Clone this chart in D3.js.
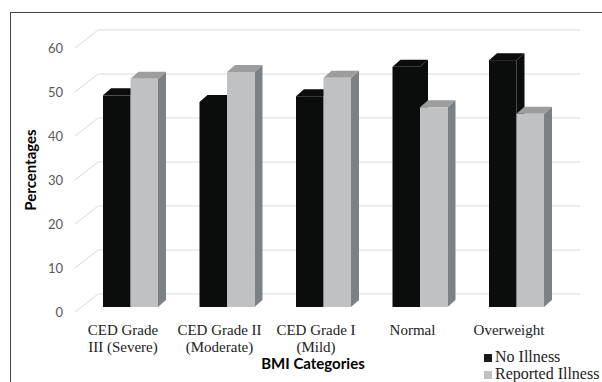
<!DOCTYPE html>
<html>
<head>
<meta charset="utf-8">
<script src="https://cdn.jsdelivr.net/npm/d3@7"></script>
<style>
  body { margin: 0; background: #fff; }
  svg { display: block; }
</style>
</head>
<body>
<svg width="602" height="382"></svg>
<script>
const categories = ['CED Grade III (Severe)', 'CED Grade II (Moderate)', 'CED Grade I (Mild)', 'Normal', 'Overweight']
const categoryLines = [['CED Grade', 'III (Severe)'], ['CED Grade II', '(Moderate)'], ['CED Grade I', '(Mild)'], ['Normal'], ['Overweight']]
const series = ['No Illness', 'Reported Illness']
const noIllness = [48.1, 46.6, 47.9, 54.6, 56.1]
const reportedIllness = [51.9, 53.4, 52.1, 45.4, 43.9]
const yTicks = [0, 10, 20, 30, 40, 50, 60]

const svg = d3.select('svg')

// depth of a bar and of the whole floor (3d look)
const bar = { dx: 8, dy: -7 }
const wall = { dx: 23, dy: -18 }

const x = d3.scaleBand()
  .domain(categories)
  .range([61.5, 585.5])
  .paddingInner(0.43)
  .paddingOuter(0.43)

const xs = d3.scaleBand()
  .domain(series)
  .range([0, x.bandwidth()])

// bar front plane
const y = d3.scaleLinear().domain([0, 60]).range([307, 43])
// front edge of the floor (axis labels) and back wall
const yFront = d3.scaleLinear().domain([0, 60]).range([312, 48])
const yBack = v => yFront(v) + wall.dy

const fills = {
  'No Illness': { front: '#0b0d0c', top: '#0b0d0c', side: '#0b0d0c' },
  'Reported Illness': { front: '#bfc1c3', top: '#9b9d9f', side: '#7e8184' }
}

// outer border
svg.append('rect')
  .attr('x', 10.5).attr('y', 12.5)
  .attr('width', 620).attr('height', 400)
  .attr('fill', 'none')
  .attr('stroke', '#444')

// gridlines: diagonal on the side wall then flat on the back wall
const axisX = 75
const grid = svg.append('g').attr('stroke', '#d9d9d9').attr('fill', 'none')
grid.selectAll('path')
  .data(yTicks)
  .join('path')
  .attr('d', v => `M${axisX},${yFront(v)}L${axisX + wall.dx},${yBack(v)}H580`)

// tick labels
svg.append('g')
  .attr('transform', `translate(${axisX - 10},0)`)
  .call(d3.axisLeft(yFront).tickValues(yTicks).tickSize(0).tickPadding(2))
  .call(g => g.select('.domain').remove())
  .call(g => g.selectAll('text')
    .attr('fill', '#595959')
    .attr('font-family', 'Lato, "Open Sans", sans-serif')
    .attr('font-size', 13))

// bars
const rows = categories.map((c, i) => ({ cat: c, values: [noIllness[i], reportedIllness[i]] }))

const cat = svg.append('g')
  .selectAll('g')
  .data(rows)
  .join('g')
  .attr('transform', d => `translate(${x(d.cat)},0)`)

const piece = cat.selectAll('g')
  .data(d => series.map((s, j) => ({ s, v: d.values[j] })))
  .join('g')

piece.each(function (d) {
  const g = d3.select(this)
  const x0 = xs(d.s)
  const x1 = x0 + xs.bandwidth()
  const yt = y(d.v)
  const yb = y(0)
  const f = fills[d.s]
  // side
  g.append('path')
    .attr('fill', f.side)
    .attr('d', `M${x1},${yb}L${x1 + bar.dx},${yb + bar.dy}L${x1 + bar.dx},${yt + bar.dy}L${x1},${yt}Z`)
  // top
  g.append('path')
    .attr('fill', f.top)
    .attr('d', `M${x0},${yt}L${x0 + bar.dx},${yt + bar.dy}L${x1 + bar.dx},${yt + bar.dy}L${x1},${yt}Z`)
  // front
  g.append('rect')
    .attr('fill', f.front)
    .attr('x', x0).attr('y', yt)
    .attr('width', xs.bandwidth()).attr('height', yb - yt)
})

// category labels
svg.append('g')
  .selectAll('text')
  .data(rows)
  .join('text')
  .attr('x', (d, i) => x(d.cat) + x.bandwidth() / 2 - 7.5)
  .attr('y', 335)
  .attr('text-anchor', 'middle')
  .attr('font-family', '"Liberation Serif", "Times New Roman", serif')
  .attr('font-size', 15)
  .attr('fill', '#222')
  .selectAll('tspan')
  .data((d, i) => categoryLines[i])
  .join('tspan')
  .attr('x', function () { return this.parentNode.getAttribute('x') })
  .attr('dy', (d, i) => i ? 17 : 0)
  .text(d => d)

// axis titles
svg.append('text')
  .attr('x', 313).attr('y', 369)
  .attr('text-anchor', 'middle')
  .attr('font-family', 'Lato, "Open Sans", sans-serif')
  .attr('font-weight', 'bold')
  .attr('font-size', 15)
  .text('BMI Categories')

svg.append('text')
  .attr('transform', 'translate(36,170) rotate(-90)')
  .attr('text-anchor', 'middle')
  .attr('font-family', 'Lato, "Open Sans", sans-serif')
  .attr('font-weight', 'bold')
  .attr('font-size', 15)
  .text('Percentages')

// legend
const legend = svg.append('g')
  .selectAll('g')
  .data(series)
  .join('g')
  .attr('transform', (d, i) => `translate(484,${354 + i * 17})`)
legend.append('rect')
  .attr('width', 8).attr('height', 8)
  .attr('fill', d => d === 'No Illness' ? '#1c1a1b' : '#bfc1c3')
legend.append('text')
  .attr('x', 11).attr('y', 8)
  .attr('font-family', '"Liberation Serif", "Times New Roman", serif')
  .attr('font-size', 16)
  .attr('fill', '#222')
  .text(d => d)
</script>
</body>
</html>
